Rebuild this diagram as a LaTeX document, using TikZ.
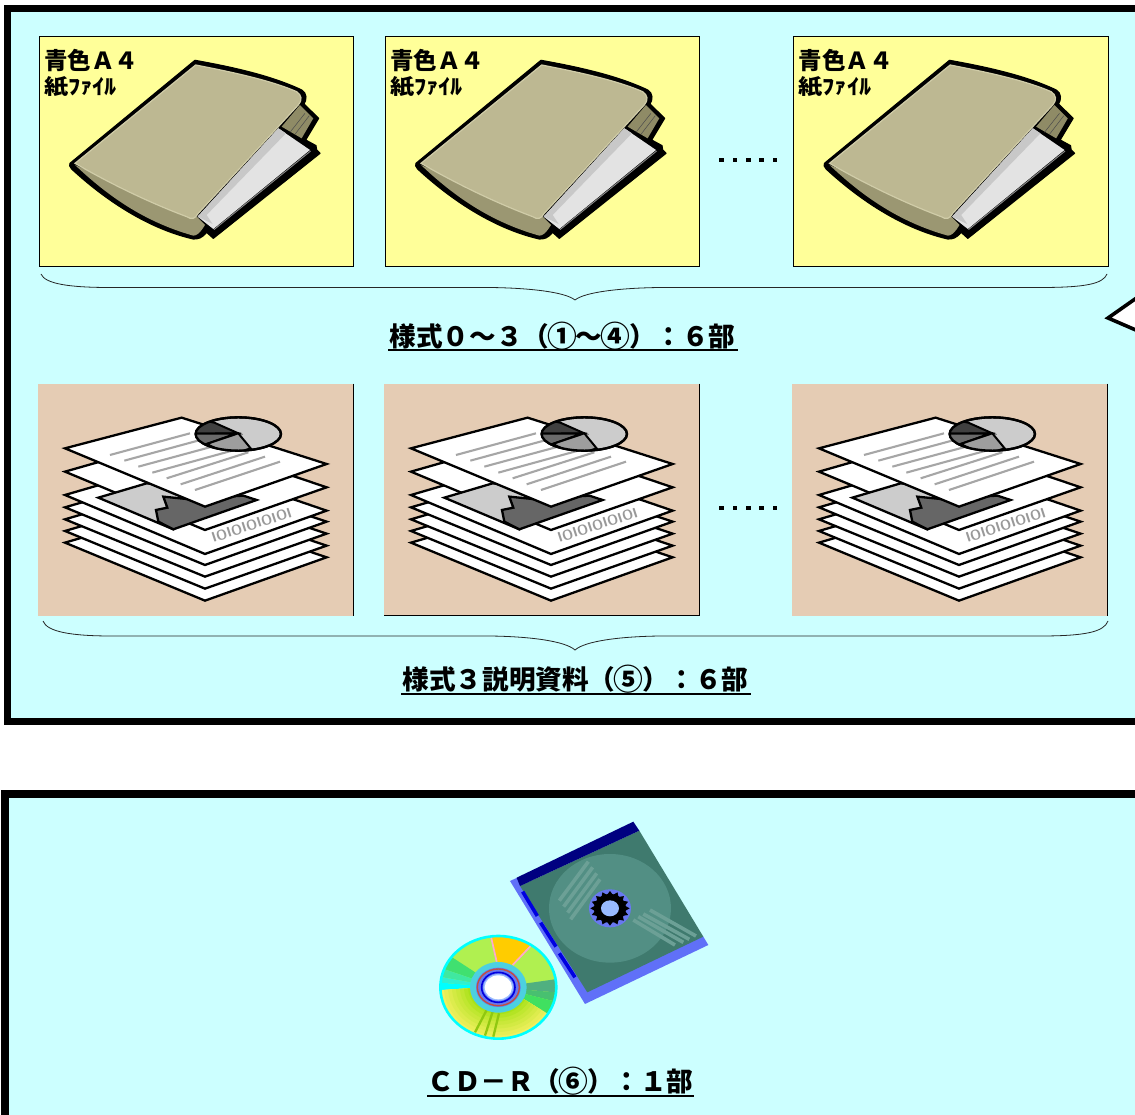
\documentclass[tikz,border=0pt]{standalone}
\usepackage{fontspec}
\newfontfamily\jp{Noto Sans CJK JP}
\newcommand{\circnum}[1]{\makebox[1em]{\raisebox{-0.07em}{\scalebox{1.12}{#1}}}}
\definecolor{panelcyan}{HTML}{CCFFFF}
\definecolor{panelyellow}{HTML}{FFFF99}
\definecolor{paneltan}{HTML}{E5CCB4}
\definecolor{coverc}{HTML}{BDB892}
\definecolor{coveredge}{HTML}{D0CCA8}
\definecolor{backc}{HTML}{9B9772}
\definecolor{spinec}{HTML}{8F8B66}
\definecolor{paperc}{HTML}{E3E3E3}
\definecolor{papersh}{HTML}{C8C8C8}
\definecolor{casegreen}{HTML}{3F7A6E}
\definecolor{casedisc}{HTML}{528F84}
\definecolor{casestreak}{HTML}{6CA096}
\definecolor{caserail}{HTML}{6070F8}
\definecolor{casenavy}{HTML}{000080}
\definecolor{caseblue}{HTML}{0000E0}
\definecolor{hubblue}{HTML}{6878F0}
\definecolor{hublight}{HTML}{99BBFF}
\definecolor{cdgreen}{HTML}{B0F050}
\definecolor{cdyellow}{HTML}{F0F060}
\definecolor{cdlime}{HTML}{A0E010}
\definecolor{cdhub}{HTML}{4CD0E0}
\definecolor{cdcyan}{HTML}{00FFFF}
\definecolor{cdorange}{HTML}{FFCC00}
\definecolor{cdpink}{HTML}{FFAACC}
\definecolor{cdstreak}{HTML}{90C810}
\definecolor{cdredring}{HTML}{C05040}
\definecolor{lfa}{HTML}{40E070}
\definecolor{lfb}{HTML}{40E8A0}
\definecolor{lfc}{HTML}{30F0D0}
\definecolor{rta}{HTML}{50B080}
\definecolor{rtb}{HTML}{48C070}
\definecolor{rtc}{HTML}{40E060}
\tikzset{
  titletext/.style={font=\jp\bfseries\fontsize{26.6}{28}\selectfont,inner sep=0pt,anchor=base},
  ulinerule/.style={line width=2pt},
  bracecurve/.style={line width=0.8pt,black!85},
  sheet/.style={fill=white,draw=black,line width=2.3pt,line join=miter},
  txtline/.style={draw=black!35,line width=2.1pt},
  panelbox/.style={draw=black,line width=0.8pt},
  dotmark/.style={fill=black},
}
\newcommand{\folderart}[1]{%
 \begin{scope}[shift={(#1,0)}]
  \fill[panelyellow] (39,36) rectangle (353.5,266);
  \draw[panelbox] (39,36) rectangle (353.5,266);
  \node[font=\jp\bfseries\fontsize{23.5}{25}\selectfont,anchor=west,inner sep=0pt] (fa#1) at (44,61) {青色Ａ４};
  \node[font=\jp\bfseries\fontsize{21}{23}\selectfont,anchor=west,inner sep=0pt] (fb#1) at (44,87) {\scalebox{1.15}[1]{紙ﾌｧｲﾙ}};
  \begin{scope}[shift={(30,25)},x=0.3333pt,y=-0.3333pt]
   \filldraw[black,line width=1.2pt,line join=round] (120,415) -- (495,106) .. controls (600,125) and (720,150) .. (815,195) .. controls (832,205) and (830,225) .. (822,237) -- (866,280) -- (827,345) -- (858,362) -- (860,375) -- (870,385) -- (550,640) -- (530,622) .. controls (515,640) and (505,642) .. (490,642) .. controls (350,610) and (220,520) .. (125,432) .. controls (118,425) and (118,420) .. (120,415) -- cycle;
   \fill[backc] (135,420) -- (500,575) -- (525,600) .. controls (510,625) and (500,632) .. (490,632) .. controls (340,590) and (230,510) .. (135,420) -- cycle;
   \fill[spinec] (810,240) -- (850,280) -- (815,340) -- (755,305) -- cycle;
   \draw[black!70,line width=0.5pt] (780,322) -- (825,265) (795,328) -- (838,272);
   \fill[paperc] (745,310) -- (840,375) -- (550,612) -- (503,575) -- cycle;
   \fill[papersh] (745,310) -- (768,325) -- (530,570) -- (548,597) -- (503,575) -- cycle;
   \draw[black!45,line width=0.9pt] (842,378) -- (552,614);
   \fill[coverc] (135,415) -- (497,120) .. controls (600,140) and (720,165) .. (800,200) .. controls (815,210) and (818,225) .. (805,240) -- (505,565) .. controls (495,582) and (485,585) .. (470,575) .. controls (350,530) and (230,470) .. (135,415) -- cycle;
   \draw[coveredge,line width=1.2pt] (135,415) -- (497,120) .. controls (600,140) and (720,165) .. (800,200) .. controls (815,210) and (818,225) .. (805,240) -- (505,565) .. controls (495,582) and (485,585) .. (470,575) .. controls (350,530) and (230,470) .. (135,415) -- cycle;
  \end{scope}
 \end{scope}}
\newcommand{\stackart}[1]{%
 \begin{scope}[shift={(#1,0)}]
  \fill[paneltan] (38,383.5) rectangle (353.5,615.5);
  \draw[line width=0.8pt] (353.5,383.5) -- (353.5,615.5);
  \begin{scope}[shift={(30,375)},x=0.3333pt,y=-0.3333pt]
   \filldraw[sheet] (105,503) -- (455,400) -- (890,547) -- (525,677) -- cycle;
   \filldraw[sheet] (105,468) -- (455,365) -- (890,512) -- (525,641) -- cycle;
   \filldraw[sheet] (105,433) -- (455,330) -- (890,476) -- (525,605) -- cycle;
   \filldraw[sheet] (105,397) -- (455,295) -- (890,440) -- (525,570) -- cycle;
   \filldraw[sheet] (105,360) -- (455,258) -- (890,407) -- (525,537) -- cycle;
   \node[rotate=18,text=black!40,font=\sffamily\bfseries\fontsize{14}{15}\selectfont,inner sep=0pt] (bits#1) at (665,450) {IOIOIOIOIOI};
   \filldraw[sheet] (105,290) -- (455,190) -- (890,337) -- (525,465) -- cycle;
   \filldraw[fill=black!20,draw=black,line width=2.3pt] (205,368) -- (350,325) -- (560,350) -- (430,463) -- cycle;
   \filldraw[fill=black!60,draw=black,line width=2.3pt,line join=miter] (400,365) -- (470,372) -- (640,362) -- (680,375) -- (430,463) -- (385,440) -- (378,405) -- (412,398) -- cycle;
   \filldraw[sheet] (105,220) -- (455,128) -- (890,267) -- (525,395) -- cycle;
   \draw[txtline] (240,240) -- (480,175) (283,257) -- (522,192) (325,275) -- (565,210) (367,293) -- (610,226) (410,310) -- (655,232) (452,328) -- (705,245) (495,345) -- (750,260);
   \filldraw[fill=black!20,draw=black,line width=2.3pt] (625,177) ellipse [x radius=128,y radius=50];
   \begin{scope}
    \clip (625,177) ellipse [x radius=128,y radius=50];
    \filldraw[fill=black!75,draw=black,line width=2pt] (553,143) -- (625,175) -- (490,176) -- (490,130) -- cycle;
    \filldraw[fill=black!58,draw=black,line width=2pt] (490,176) -- (617,176) -- (530,207) -- (490,225) -- cycle;
    \filldraw[fill=black!38,draw=black,line width=2pt] (530,207) -- (625,175) -- (662,220) -- (600,240) -- cycle;
   \end{scope}
   \draw[black,line width=2.3pt] (625,177) ellipse [x radius=128,y radius=50];
  \end{scope}
 \end{scope}}
\begin{document}
\begin{tikzpicture}[x=1pt,y=-1pt,line cap=butt]
\useasboundingbox (0,0) rectangle (1135,1115);
\clip (0,0) rectangle (1135,1115);
\fill[white] (0,0) rectangle (1135,1115);
% frames
\fill[black] (4,5) rectangle (1200,725);
\fill[panelcyan] (11,12) rectangle (1200,718);
\fill[black] (1,790) rectangle (1200,1200);
\fill[panelcyan] (9,798) rectangle (1200,1200);
% callout
\coordinate (calloutA) at (1145,292);
\coordinate (calloutB) at (1108,318);
\coordinate (calloutC) at (1145,334);
\filldraw[fill=white,draw=black,line width=3.6pt,line join=miter] (calloutA) -- (calloutB) -- (calloutC);
% top row
\folderart{0}\folderart{346}\folderart{754.5}
\foreach \dx in {721.7,735,748.5,761.7,775} {\fill[dotmark] (\dx-2.3,157.7) rectangle (\dx+2.3,162.3);}
\draw[bracecurve] (41,274) .. controls (45,284) and (70,287.5) .. (110,287.5) -- (490,287.5) .. controls (530,288) and (565,292) .. (575,300) .. controls (585,292) and (620,288) .. (660,287.5) -- (1040,287.5) .. controls (1085,287.5) and (1103,284) .. (1107,274);
\node[titletext] (t1) at (562.5,346) {様式０～３（\circnum{①}～\circnum{④}）：６部};
\draw[ulinerule] (388,350) -- (737.5,350);
% second row
\stackart{0}\stackart{346}\stackart{754}
\draw[line width=0.8pt] (384,615.5) -- (699.5,615.5);
\foreach \dx in {721.7,735,748.5,761.7,775} {\fill[dotmark] (\dx-2.3,505.7) rectangle (\dx+2.3,510.3);}
\draw[bracecurve] (43,621) .. controls (47,632) and (72,636) .. (112,636) -- (490,636) .. controls (530,636.5) and (565,641) .. (575,650) .. controls (585,641) and (620,636.5) .. (660,636) -- (1040,636) .. controls (1085,636) and (1104,632) .. (1108,621);
\node[titletext] (t2) at (575.5,689) {様式３説明資料（\circnum{⑤}）：６部};
\draw[ulinerule] (401,693.5) -- (750.5,693.5);
% CD case
\begin{scope}[shift={(420,810)},x=0.3333pt,y=-0.3333pt]
 \fill[caserail] (270,213) -- (292,203) -- (850,380) -- (865,405) -- (495,582) -- cycle;
 \fill[casegreen] (300,228) -- (658,62) -- (850,380) -- (502,547) -- cycle;
 \fill[casenavy] (640,35) -- (658,62) -- (300,228) -- (290,203) -- cycle;
 \fill[casedisc] (570,295) ellipse [x radius=183,y radius=163];
 \foreach \ax/\ay/\bx/\by in {418/272/505/155,431/290/518/172,443/308/530/190,452/328/540/208,640/330/765/405,655/320/790/397,670/312/808/388,690/300/828/378} {\draw[casestreak,line width=3.6pt] (\ax,\ay) -- (\bx,\by);}
 \fill[hubblue] (570,295) ellipse [x radius=63,y radius=57];
 \fill[black] (570,295) ellipse [x radius=48,y radius=43];
 \foreach \a in {0,22.5,...,337.5} {\fill[black] ({570+46*cos(\a-11)},{295+41*sin(\a-11)}) -- ({570+59*cos(\a)},{295+52*sin(\a)}) -- ({570+46*cos(\a+11)},{295+41*sin(\a+11)}) -- cycle;}
 \fill[hublight] (570,295) ellipse [x radius=27,y radius=24];
 \draw[caseblue,line width=3.6pt] (308,245) -- (352,318) (362,338) -- (408,410) (418,430) -- (465,502);
\end{scope}
% CD disc
\begin{scope}[shift={(430,925)},x=0.3333pt,y=-0.3333pt]
 \fill[cdgreen] (205,187) ellipse [x radius=175,y radius=155];
 \begin{scope}
  \clip (205,187) ellipse [x radius=175,y radius=155];
  \fill[cdorange] (203,110) -- (180,20) -- (320,45) -- (250,120) -- cycle;
  \fill[lfa] (205,187) -- (25,70) -- (5,120) -- cycle;
  \fill[lfb] (205,187) -- (5,120) -- (0,150) -- cycle;
  \fill[lfc] (205,187) -- (0,150) -- (-5,170) -- cycle;
  \fill[cdcyan] (205,187) -- (-5,170) -- (-5,197) -- cycle;
  \fill[rta] (205,187) -- (410,158) -- (410,205) -- cycle;
  \fill[rtb] (205,187) -- (410,205) -- (410,238) -- cycle;
  \fill[rtc] (205,187) -- (410,238) -- (410,297) -- cycle;
  \begin{scope}
   \clip (0,197) -- (205,185) -- (285,225) -- (400,295) -- (400,400) -- (0,400) -- cycle;
   \foreach \r/\p in {175/100,163/88,151/76,139/64,127/52,115/40,103/25,91/10} {\fill[cdyellow!\p!cdlime] (205,187) ellipse [x radius=\r,y radius=\r*0.886];}
  \end{scope}
  \draw[cdstreak,line width=2.3pt] (135,322) -- (170,255) (165,332) -- (188,260) (190,335) -- (207,265);
  \draw[cdpink,line width=1.7pt] (183,35) -- (200,110) (302,63) -- (248,120);
 \end{scope}
 \draw[cdcyan,line width=2.6pt] (205,187) ellipse [x radius=174,y radius=154];
 \fill[cdhub] (205,187) ellipse [x radius=85,y radius=76];
 \fill[hubblue] (205,187) ellipse [x radius=67,y radius=59];
 \draw[cdredring,line width=1.4pt] (205,187) ellipse [x radius=63,y radius=55];
 \draw[caseblue,line width=1.6pt] (205,187) ellipse [x radius=50,y radius=45];
 \fill[hublight] (205,187) ellipse [x radius=45,y radius=40];
 \fill[white] (205,187) ellipse [x radius=41,y radius=36];
\end{scope}
\node[titletext] (t3) at (560.5,1091) {ＣＤ－Ｒ（\circnum{⑥}）：１部};
\draw[ulinerule] (427,1095.5) -- (694,1095.5);
\end{tikzpicture}
\end{document}
